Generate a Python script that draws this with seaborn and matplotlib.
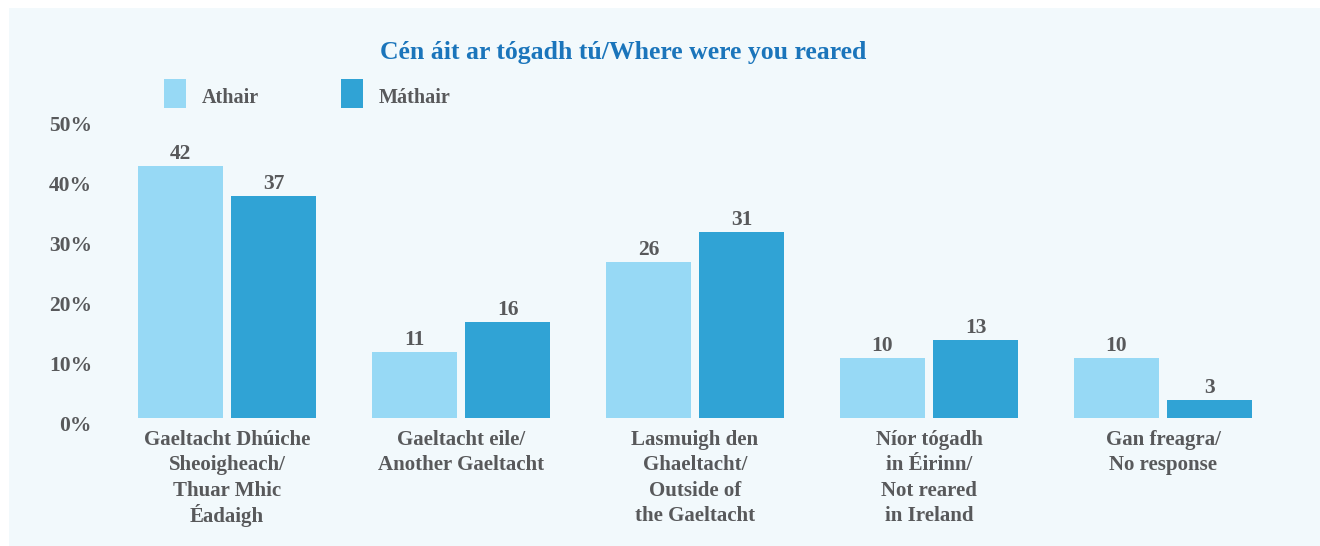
import matplotlib
matplotlib.use("Agg")
import matplotlib.pyplot as plt
from matplotlib.patches import Rectangle
import pandas as pd
import seaborn as sns

# ── Data ──────────────────────────────────────────────────────────────────────
places = [
    "Gaeltacht Dhúiche\nSheoigheach/\nThuar Mhic\nÉadaigh",
    "Gaeltacht eile/\nAnother Gaeltacht",
    "Lasmuigh den\nGhaeltacht/\nOutside of\nthe Gaeltacht",
    "Níor tógadh\nin Éirinn/\nNot reared\nin Ireland",
    "Gan freagra/\nNo response",
]
parents = ["Athair", "Máthair"]
athair = [42, 11, 26, 10, 10]
mathair = [37, 16, 31, 13, 3]
ytick_vals = [0, 10, 20, 30, 40, 50]
ytick_labels = ["0%", "10%", "20%", "30%", "40%", "50%"]
title = "Cén áit ar tógadh tú/Where were you reared"

df = pd.DataFrame({
    "place": places * 2,
    "parent": [parents[0]] * len(places) + [parents[1]] * len(places),
    "pct": athair + mathair,
})

# ── Style ─────────────────────────────────────────────────────────────────────
LIGHT = "#97d9f5"
DARK = "#30a3d5"
GREY = "#58595b"
BLUE = "#1b75bb"
PANEL = "#f2f9fc"

sns.set_theme(style="white")
plt.rcParams["font.family"] = ["Liberation Serif", "DejaVu Serif"]

W, H = 1320, 546
fig = plt.figure(figsize=(W / 100, H / 100), dpi=100, facecolor="white")
fig.patches.append(Rectangle((9 / W, 0), 1, 1 - 8 / H, transform=fig.transFigure,
                             facecolor=PANEL, edgecolor="none", zorder=-10))

# axes: x pixel 100..1300, y pixel 118 (50%) .. 418 (0%)
ax = fig.add_axes([100 / W, (H - 418) / H, 1200 / W, 300 / H])
ax.set_facecolor("none")

sns.barplot(data=df, x="place", y="pct", hue="parent", order=places, hue_order=parents,
            palette=[LIGHT, DARK], saturation=1, width=0.795, gap=0.086,
            linewidth=0, edgecolor="none", legend=False, ax=ax)

group_px = 234
x0 = -(227 - 100) / group_px
ax.set_xlim(x0, x0 + 1200 / group_px)
ax.set_ylim(0, 50)

for c in ax.containers:
    ax.bar_label(c, labels=[f"{v:.0f}" for v in c.datavalues], padding=1.5,
                 fontsize=15.5, fontweight="bold", color=GREY)

# y tick labels sit a few pixels below their gridline value
ax.set_yticks(ytick_vals)
ax.set_yticklabels([])
for v, lab in zip(ytick_vals, ytick_labels):
    ax.annotate(lab, xy=(0, v), xycoords=("axes fraction", "data"),
                xytext=(-8 * 0.72, -8 * 0.72), textcoords="offset points",
                ha="right", va="center", fontsize=15.5, fontweight="bold", color=GREY)

# x labels: fixed line pitch of 25 px
ax.set_xticks(range(len(places)))
ax.set_xticklabels([])
for i, p in enumerate(places):
    for j, line in enumerate(p.split("\n")):
        ax.annotate(line, xy=(i, 0), xycoords=("data", "axes fraction"),
                    xytext=(0, -(22 + 25.3 * j) * 0.72), textcoords="offset points",
                    ha="center", va="center", fontsize=15, fontweight="bold", color=GREY)

ax.tick_params(axis="both", length=0)
ax.set_xlabel("")
ax.set_ylabel("")
sns.despine(ax=ax, left=True, bottom=True)

# ── Title and legend ──────────────────────────────────────────────────────────
fig.text(623 / W, 1 - 52 / H, title, ha="center", va="center", fontsize=18.5,
         fontweight="bold", color=BLUE)

for (px, lab, col) in [(164, parents[0], LIGHT), (341, parents[1], DARK)]:
    fig.patches.append(Rectangle((px / W, 1 - 108 / H), 22 / W, 29 / H,
                                 transform=fig.transFigure, facecolor=col,
                                 edgecolor="none"))
    fig.text((px + 38) / W, 1 - 98 / H, lab, ha="left", va="center",
             fontsize=14.5, fontweight="bold", color=GREY)

plt.savefig("out.png", dpi=100, facecolor=fig.get_facecolor())
